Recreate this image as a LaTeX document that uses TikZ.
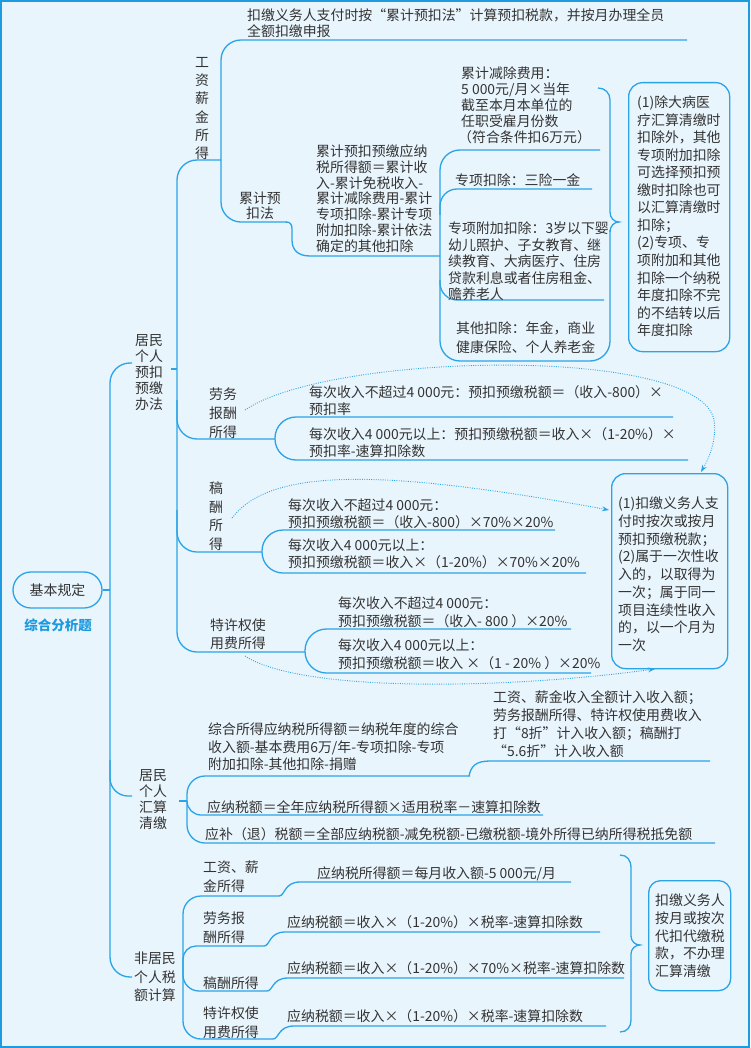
\documentclass[tikz,border=0pt]{standalone}
\usepackage{fontspec}
\setmainfont{Noto Sans CJK SC}
\usetikzlibrary{arrows.meta}
\definecolor{bg}{HTML}{E9F5FD}
\definecolor{ln}{HTML}{2AA4E6}
\definecolor{tc}{HTML}{333333}
\definecolor{fr}{HTML}{1E9BE0}
\newcommand\firstl{\rule{0pt}{14pt}}
\begin{document}
\begin{tikzpicture}[x=1pt,y=-1pt,
  conn/.style={draw=ln, line width=1.3pt},
  txt/.style={anchor=north west, inner sep=0pt, align=left, text=tc, yshift=8.7pt, font=\fontsize{13.9}{17}\selectfont},
  ctxt/.style={anchor=north, inner sep=0pt, align=center, text=tc, yshift=8.7pt, font=\fontsize{13.9}{17}\selectfont},
  lsk/.style={font=\fontsize{13.9}{#1}\selectfont},
  dotarrow/.style={draw=ln, line width=0.9pt, dash pattern=on 0.9pt off 1.4pt, -{Stealth[length=7pt,width=5pt]}},
  rbox/.style={draw=ln, line width=1.3pt, rounded corners=14pt, inner sep=0pt},
]
\useasboundingbox (0,0) rectangle (750,1048);
\fill[bg] (0,0) rectangle (750,1048);
\draw[fr, line width=2pt] (1,1) rectangle (749,1047);

% root
\node[rbox, rounded corners=18pt, minimum width=89pt, minimum height=36pt, font=\fontsize{13.9}{16}\selectfont, text=tc] (root) at (57.5,590) {基本规定};
\node[font=\fontsize{13.5}{15}\selectfont\bfseries, text=fr] (tag) at (58,625) {综合分析题};

% main trunk
\draw[conn] (root.east) -- (110,590);
\draw[conn, rounded corners=20pt] (132,363) -- (110,363) -- (110,977) -- (132,977);
\draw[conn, rounded corners=18pt] (110,760) |- (132,796);

% ===== 居民个人预扣预缴办法 =====
\node[ctxt, lsk=16] (jm) at (149,340) {\firstl 居民\\个人\\预扣\\预缴\\办法};
\draw[conn] (171,369) -- (177,369);
\draw[conn, rounded corners=20pt] (221,160) -- (177,160) -- (177,652) -- (305,652);
\draw[conn, rounded corners=20pt] (177,400) |- (275,439);
\draw[conn, rounded corners=20pt] (177,510) |- (262,552);

% 工资薪金所得
\node[ctxt, lsk=18.2] (gz) at (202,62) {\firstl 工\\资\\薪\\金\\所\\得};
\node[txt, lsk=16] (top) at (247,15) {\firstl 扣缴义务人支付时按“累计预扣法”计算预扣税款，并按月办理全员\\全额扣缴申报};
\draw[conn, rounded corners=20pt] (687,40) -- (221,40) -- (221,222) -- (287,222);
\draw[conn] (286,222) .. controls (290,222) and (292,224) .. (292,229) -- (292,240) .. controls (292,250) and (298,256) .. (310,256) -- (440,256);
\node[ctxt, lsk=15.5] (ljyk) at (260,198) {\firstl 累计预\\扣法};
\node[txt, lsk=15.8] (gs) at (316,151) {\firstl 累计预扣预缴应纳\\税所得额＝累计收\\入-累计免税收入-\\累计减除费用-累计\\专项扣除-累计专项\\附加扣除-累计依法\\确定的其他扣除};

% bracket of deductions
\draw[conn, rounded corners=20pt] (600,150) -- (440,150) -- (440,361) -- (610,361) -- (610,230);
\draw[conn] (610,232) .. controls (610,226) and (614,222) .. (619,222) .. controls (614,222) and (610,218) .. (610,212) -- (610,100) .. controls (610,93) and (605,88) .. (598,88);
\draw[conn, rounded corners=17pt] (440,215) |- (592,189);
\draw[conn, rounded corners=17pt] (440,280) |- (604,300);
\node[txt, lsk=16] (ljjc) at (461,73) {\firstl 累计减除费用：\\5 000元/月×当年\\截至本月本单位的\\任职受雇月份数\\\hspace*{-3pt}（符合条件扣6万元）};
\node[txt] (zxkc) at (455,180) {\firstl 专项扣除：三险一金};
\node[txt, lsk=16.5] (zxfj) at (448,228) {\firstl 专项附加扣除：3岁以下婴\\幼儿照护、子女教育、继\\续教育、大病医疗、住房\\贷款利息或者住房租金、\\赡养老人};
\node[txt, lsk=19] (qtkc) at (456,328) {\firstl 其他扣除：年金，商业\\健康保险、个人养老金};

\node[rbox, anchor=north west, minimum width=101pt, minimum height=269pt] (b2) at (628,82) {};
\node[txt, lsk=17.55] (b2t) at (637,102) {\firstl (1)除大病医\\疗汇算清缴时\\扣除外，其他\\专项附加扣除\\可选择预扣预\\缴时扣除也可\\以汇算清缴时\\扣除；\\(2)专项、专\\项附加和其他\\扣除一个纳税\\年度扣除不完\\的不结转以后\\年度扣除};

% 劳务报酬所得
\node[ctxt, lsk=19] (lw) at (223,394) {\firstl 劳务\\报酬\\所得};
\draw[conn, rounded corners=21pt] (673,417) -- (275,417) -- (275,460) -- (688,460);
\node[txt, lsk=16.5] (lw1) at (309,392) {\firstl 每次收入不超过4 000元：预扣预缴税额＝（收入-800）×\\预扣率};
\node[txt, lsk=16.5] (lw2) at (309,434) {\firstl 每次收入4 000元以上：预扣预缴税额＝收入×（1-20\%）×\\预扣率-速算扣除数};

% 稿酬所得
\node[ctxt, lsk=18.5] (gc) at (216,488) {\firstl 稿\\酬\\所\\得};
\draw[conn, rounded corners=21pt] (555,530) -- (262,530) -- (262,573) -- (586,573);
\node[txt, lsk=16.5] (gc1) at (288,505) {\firstl 每次收入不超过4 000元：\\预扣预缴税额＝（收入-800）×70\%×20\%};
\node[txt, lsk=16.5] (gc2) at (288,545) {\firstl 每次收入4 000元以上：\\预扣预缴税额＝收入×（1-20\%）×70\%×20\%};

% 特许权使用费所得
\node[txt, lsk=18] (tx) at (210,625) {\firstl 特许权使\\用费所得};
\draw[conn, rounded corners=21.5pt] (571,629) -- (305,629) -- (305,673) -- (591,673);
\node[txt, lsk=17.5] (tx1) at (338,603) {\firstl 每次收入不超过4 000元：\\预扣预缴税额＝（收入- 800 ）×20\%};
\node[txt, lsk=17.5] (tx2) at (338,645) {\firstl 每次收入4 000元以上：\\预扣预缴税额＝收入 ×（1 - 20\% ）×20\%};

% right box 1
\node[rbox, anchor=north west, minimum width=116pt, minimum height=195pt] (b1) at (611,473) {};
\node[txt, lsk=17.75] (b1t) at (618,503) {\firstl (1)扣缴义务人支\\付时按次或按月\\预扣预缴税款；\\(2)属于一次性收\\入的，以取得为\\一次；属于同一\\项目连续性收入\\的，以一个月为\\一次};

% dotted arrows
\draw[dotarrow] (245,410) .. controls (330,352) and (700,345) .. (714,420) .. controls (717,440) and (709,458) .. (701,472);
\draw[dotarrow] (232,518) .. controls (270,468) and (380,468) .. (609,510);
\draw[dotarrow] (245,656) .. controls (300,692) and (500,690) .. (655,669);

% ===== 居民个人汇算清缴 =====
\node[ctxt, lsk=16] (hs) at (153,775) {\firstl 居民\\个人\\汇算\\清缴};
\draw[conn] (179,801) -- (187,801);
\draw[conn, rounded corners=18pt] (187,801) |- (470,776);
\draw[conn] (469,776) .. controls (471,766) and (476,761) .. (490,761) -- (710,761);
\draw[conn, rounded corners=14pt] (187,801) |- (543,815);
\draw[conn, rounded corners=18pt] (187,801) |- (715,843);
\node[txt, lsk=17.5] (hs1) at (208,729) {\firstl 综合所得应纳税所得额＝纳税年度的综合\\收入额-基本费用6万/年-专项扣除-专项\\附加扣除-其他扣除-捐赠};
\node[txt, lsk=18] (hs2) at (493,697) {\firstl 工资、薪金收入全额计入收入额；\\劳务报酬所得、特许权使用费收入\\打“8折”计入收入额；稿酬打\\“5.6折”计入收入额};
\node[txt] (hs3) at (207,807) {\firstl 应纳税额＝全年应纳税所得额×适用税率－速算扣除数};
\node[txt] (hs4) at (205,834) {\firstl 应补（退）税额＝全部应纳税额-减免税额-已缴税额-境外所得已纳所得税抵免额};

% ===== 非居民个人税额计算 =====
\node[ctxt, lsk=18.5] (fjm) at (155,958) {\firstl 非居民\\个人税\\额计算};
\draw[conn, rounded corners=18pt] (183,960) |- (279,896);
\draw[conn] (279,896) .. controls (285,896) and (284,882) .. (300,882) -- (571,882);
\draw[conn, rounded corners=13pt] (183,960) |- (264,946);
\draw[conn] (264,946) .. controls (270,946) and (269,932) .. (285,932) -- (600,932);
\draw[conn, rounded corners=16pt] (183,960) |- (267,991);
\draw[conn] (267,991) .. controls (273,991) and (272,978) .. (288,978) -- (624,978);
\draw[conn, rounded corners=18pt] (183,960) |- (273,1039);
\draw[conn] (273,1039) .. controls (279,1039) and (278,1026) .. (294,1026) -- (606,1026);
\node[txt, lsk=19] (fj1) at (203,867) {\firstl 工资、薪\\金所得};
\node[txt, lsk=19] (fj2) at (203,918) {\firstl 劳务报\\酬所得};
\node[txt] (fj3) at (203,983) {\firstl 稿酬所得};
\node[txt, lsk=19] (fj4) at (203,1013) {\firstl 特许权使\\用费所得};
\node[txt] (ft1) at (317,873) {\firstl 应纳税所得额＝每月收入额-5 000元/月};
\node[txt] (ft2) at (287,922) {\firstl 应纳税额＝收入×（1-20\%）×税率-速算扣除数};
\node[txt] (ft3) at (287,968) {\firstl 应纳税额＝收入×（1-20\%）×70\%×税率-速算扣除数};
\node[txt] (ft4) at (287,1016) {\firstl 应纳税额＝收入×（1-20\%）×税率-速算扣除数};

% brace + box
\draw[conn] (620,855) .. controls (627,855) and (631,860) .. (631,868) -- (631,936) .. controls (631,941) and (635,945) .. (640,945) .. controls (635,945) and (631,949) .. (631,954) -- (631,1020) .. controls (631,1027) and (627,1032) .. (620,1032);
\node[rbox, anchor=north west, minimum width=82pt, minimum height=110pt, rounded corners=12pt] (b3) at (648,880) {};
\node[txt, lsk=17.75] (b3t) at (655,900) {\firstl 扣缴义务人\\按月或按次\\代扣代缴税\\款，不办理\\汇算清缴};
\end{tikzpicture}
\end{document}
